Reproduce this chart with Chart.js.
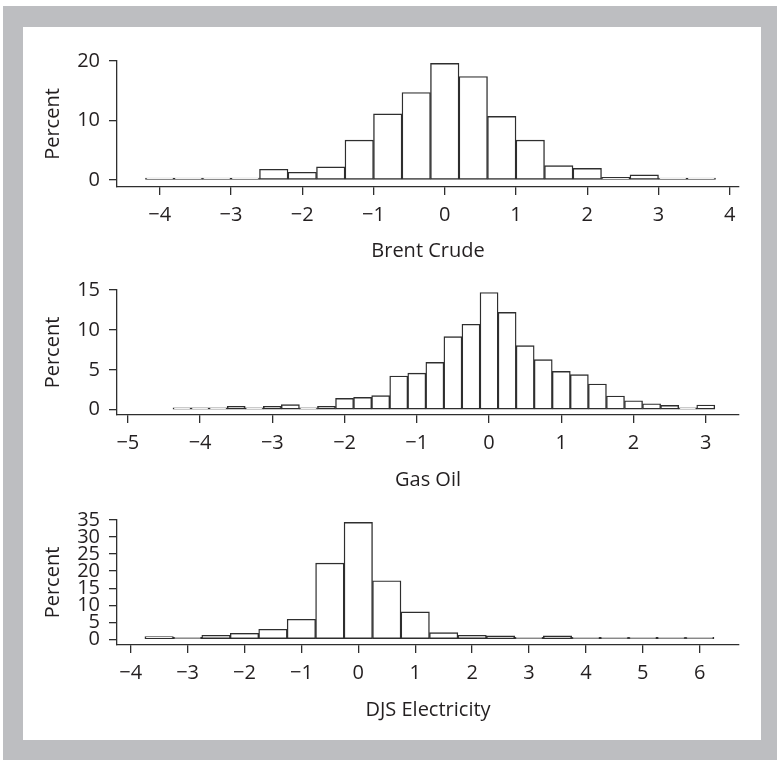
<!DOCTYPE html>
<html>
<head>
<meta charset="utf-8">
<script src="https://cdn.jsdelivr.net/npm/chart.js@4.4.1/dist/chart.umd.min.js"></script>
<style>
  html, body { margin: 0; padding: 0; background: #ffffff; }
  #frame { position: absolute; left: 3px; top: 6px; width: 774px; height: 754px; background: #bdbec1; }
  #panel { position: absolute; left: 23px; top: 27px; width: 738px; height: 713px; background: #ffffff; }
  canvas { position: absolute; left: 23px; }
</style>
</head>
<body>
<div id="frame"></div>
<div id="panel"></div>
<canvas id="c1" width="738" height="230" style="top:40px"></canvas>
<canvas id="c2" width="738" height="230" style="top:269px"></canvas>
<canvas id="c3" width="738" height="230" style="top:499px"></canvas>
<script>
// ---- Data (bin centres and percentages) ----
const brentBins = [-4.0,-3.6,-3.2,-2.8,-2.4,-2.0,-1.6,-1.2,-0.8,-0.4,0.0,0.4,0.8,1.2,1.6,2.0,2.4,2.8,3.2,3.6];
const brentPct  = [0.1,0.1,0.1,0.28,1.8,1.3,2.2,6.7,11.1,14.7,19.6,17.4,10.7,6.7,2.4,1.95,0.45,0.85,0.1,0.1];
const brentTicksX = [-4,-3,-2,-1,0,1,2,3,4];
const brentTicksY = [0,10,20];

const gasBins = [-4.25,-4.0,-3.75,-3.5,-3.25,-3.0,-2.75,-2.5,-2.25,-2.0,-1.75,-1.5,-1.25,-1.0,-0.75,-0.5,-0.25,0.0,0.25,0.5,0.75,1.0,1.25,1.5,1.75,2.0,2.25,2.5,2.75,3.0];
const gasPct  = [0.25,0.25,0.05,0.42,0.05,0.42,0.63,0.05,0.42,1.42,1.55,1.76,4.23,4.58,5.94,9.16,10.71,14.69,12.2,8.03,6.28,4.81,4.39,3.22,1.72,1.13,0.75,0.54,0.05,0.59];
const gasTicksX = [-5,-4,-3,-2,-1,0,1,2,3];
const gasTicksY = [0,5,10,15];

const elecBins = [-3.5,-3.0,-2.5,-2.0,-1.5,-1.0,-0.5,0.0,0.5,1.0,1.5,2.0,2.5,3.0,3.5,4.0,4.5,5.0,5.5,6.0];
const elecPct  = [0.78,0.49,1.18,1.76,2.94,5.88,22.35,34.3,17.16,8.04,1.96,1.18,0.98,0.49,0.98,0.1,0.1,0.1,0.2,0.2];
const elecTicksX = [-4,-3,-2,-1,0,1,2,3,4,5,6];
const elecTicksY = [0,5,10,15,20,25,30,35];

const FONT = { family: "'Open Sans', sans-serif", size: 20, lineHeight: 1.2 };
const TEXT = '#231f20';
const LINE = '#2e2e2e';

function fmt(v) { return v < 0 ? '\u2212' + Math.abs(v) : String(v); }

function makeChart(id, bins, pct, ticksX, ticksY, xr, yr, title, xAxisH) {
  new Chart(document.getElementById(id), {
    type: 'bar',
    data: {
      datasets: [{
        data: bins.map((b, i) => ({ x: b, y: pct[i] })),
        backgroundColor: '#ffffff',
        borderColor: LINE,
        borderWidth: 1.4,
        borderSkipped: false,
        minBarLength: 2,
        barPercentage: 1.0,
        categoryPercentage: 1.0
      }]
    },
    options: {
      responsive: false,
      devicePixelRatio: 1,
      animation: false,
      layout: { padding: { top: 21, right: 22, left: 0, bottom: 0 } },
      plugins: { legend: { display: false }, tooltip: { enabled: false } },
      scales: {
        x: {
          type: 'linear',
          offset: false,
          min: xr[0], max: xr[1],
          afterBuildTicks: s => { s.ticks = ticksX.map(v => ({ value: v })); },
          afterFit: s => { s.height = xAxisH; },
          grid: { offset: false, drawOnChartArea: false, drawTicks: true, tickLength: 8, color: LINE, lineWidth: 1.3 },
          border: { display: true, color: LINE, width: 1.3 },
          ticks: { font: FONT, color: TEXT, padding: 8, maxRotation: 0, autoSkip: false, callback: v => fmt(v) },
          title: { display: true, text: title, font: FONT, color: TEXT, padding: { top: 4, bottom: 7 } }
        },
        y: {
          type: 'linear',
          min: yr[0], max: yr[1],
          afterBuildTicks: s => { s.ticks = ticksY.map(v => ({ value: v })); },
          afterFit: s => { s.width = 94; },
          grid: { drawOnChartArea: false, drawTicks: true, tickLength: 8, color: LINE, lineWidth: 1.3 },
          border: { display: true, color: LINE, width: 1.3 },
          ticks: { font: FONT, color: TEXT, padding: 9, autoSkip: false, callback: v => fmt(v) },
          title: { display: true, text: 'Percent', font: FONT, color: TEXT, padding: { top: 18, bottom: 4 } }
        }
      }
    }
  });
}

makeChart('c1', brentBins, brentPct, brentTicksX, brentTicksY, [-4.6, 4.13], [-1.18, 20], 'Brent Crude', 83);
makeChart('c2', gasBins, gasPct, gasTicksX, gasTicksY, [-5.15, 3.46], [-0.66, 15], 'Gas Oil', 84);
makeChart('c3', elecBins, elecPct, elecTicksX, elecTicksY, [-4.24, 6.69], [-1.68, 35], 'DJS Electricity', 84);
</script>
</body>
</html>
